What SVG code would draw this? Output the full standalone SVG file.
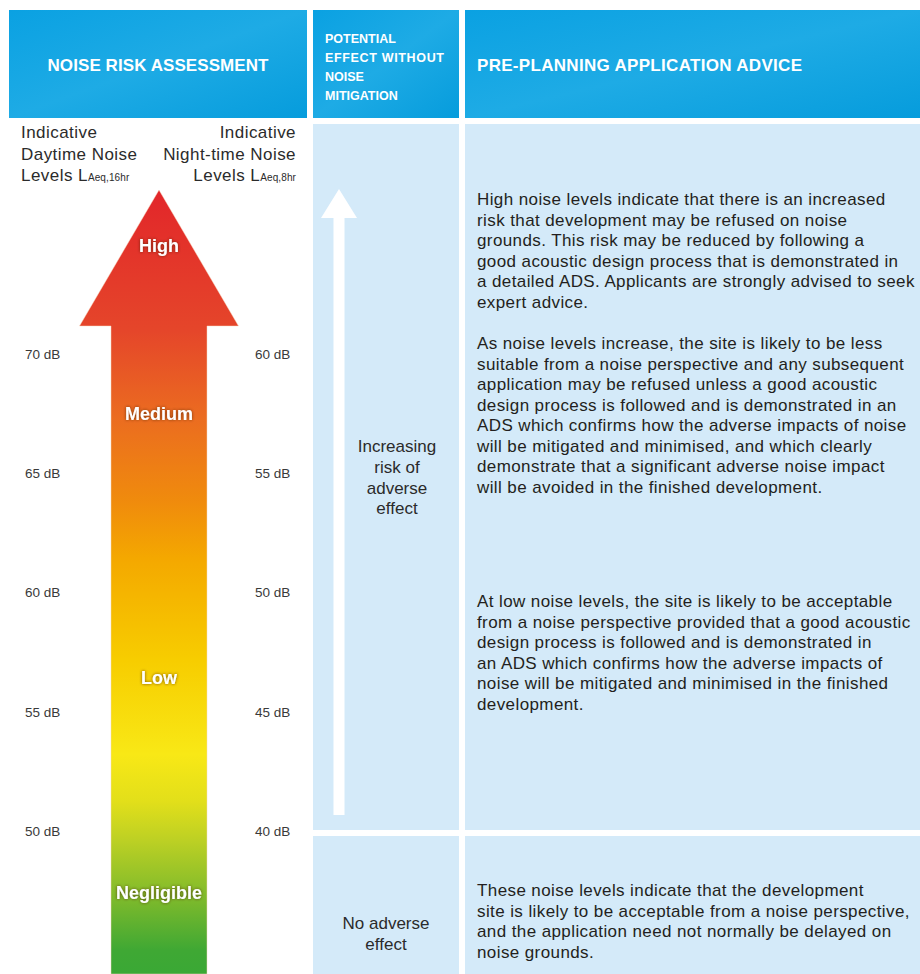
<svg xmlns="http://www.w3.org/2000/svg" width="920" height="974" viewBox="0 0 920 974">
<defs>
<linearGradient id="hdr" x1="0" y1="0" x2="1" y2="1">
<stop offset="0" stop-color="#0aa1e2"/>
<stop offset="0.5" stop-color="#1eabe5"/>
<stop offset="1" stop-color="#069cdc"/>
</linearGradient>
<linearGradient id="risk" gradientUnits="userSpaceOnUse" x1="0" y1="190" x2="0" y2="974">
<stop offset="0" stop-color="#e2262a"/>
<stop offset="0.18" stop-color="#e5462a"/>
<stop offset="0.29" stop-color="#eb6c20"/>
<stop offset="0.40" stop-color="#f08c0c"/>
<stop offset="0.47" stop-color="#f4a800"/>
<stop offset="0.60" stop-color="#f7cd00"/>
<stop offset="0.72" stop-color="#f8e816"/>
<stop offset="0.78" stop-color="#e2df1a"/>
<stop offset="0.83" stop-color="#bcd024"/>
<stop offset="0.91" stop-color="#78b82c"/>
<stop offset="0.97" stop-color="#3fa834"/>
<stop offset="1" stop-color="#3aa835"/>
</linearGradient>
<filter id="glow" x="-20%" y="-40%" width="140%" height="180%">
<feDropShadow dx="0" dy="0" stdDeviation="1.6" flood-color="#4a2000" flood-opacity="0.75"/>
</filter>
</defs>
<style>
.hdr{fill:url(#hdr)}
.panel{fill:#d4eaf9}
.ht{font-family:"Liberation Sans",Arial,sans-serif;font-weight:bold;fill:#ffffff}
.lbl{font-family:"Liberation Sans",Arial,sans-serif;font-size:17px;letter-spacing:0.45px;fill:#2b2b2b}
.sub{font-size:10px;letter-spacing:0.1px}
.db{font-family:"Liberation Sans",Arial,sans-serif;font-size:13.5px;fill:#3a3a3a}
.lvl{font-family:"Liberation Sans",Arial,sans-serif;font-size:18px;font-weight:bold;fill:#ffffff;text-anchor:middle;filter:url(#glow)}
.body{font-family:"Liberation Sans",Arial,sans-serif;font-size:17px;letter-spacing:0.4px;fill:#231f20}
.mid{font-family:"Liberation Sans",Arial,sans-serif;font-size:17px;fill:#2b2b2b;text-anchor:middle}
</style>
<rect width="920" height="974" fill="#ffffff"/>

<g id="header-assessment">
<rect class="hdr" x="9" y="10" width="298" height="108"/>
<text class="ht" x="158" y="71" font-size="17" text-anchor="middle" textLength="221">NOISE RISK ASSESSMENT</text>
</g>
<g id="header-effect">
<rect class="hdr" x="313" y="10" width="146" height="108"/>
<text class="ht" font-size="12.5">
<tspan x="325" y="42.5">POTENTIAL</tspan>
<tspan x="325" y="61.5" textLength="119">EFFECT WITHOUT</tspan>
<tspan x="325" y="80.5">NOISE</tspan>
<tspan x="325" y="99.5">MITIGATION</tspan>
</text>
</g>
<g id="header-advice">
<rect class="hdr" x="465" y="10" width="455" height="108"/>
<text class="ht" x="477" y="71" font-size="17" textLength="325">PRE-PLANNING APPLICATION ADVICE</text>
</g>

<g id="axis-labels">
<text class="lbl"><tspan x="21" y="138">Indicative</tspan><tspan x="21" y="159.5">Daytime Noise</tspan><tspan x="21" y="180.5">Levels L<tspan class="sub">Aeq,16hr</tspan></tspan></text>
<text class="lbl" text-anchor="end"><tspan x="296" y="138">Indicative</tspan><tspan x="296" y="159.5">Night-time Noise</tspan><tspan x="296" y="180.5">Levels L<tspan class="sub">Aeq,8hr</tspan></tspan></text>
</g>

<g id="db-scale">
<text class="db" x="25" y="359">70 dB</text>
<text class="db" x="25" y="478">65 dB</text>
<text class="db" x="25" y="597">60 dB</text>
<text class="db" x="25" y="717">55 dB</text>
<text class="db" x="25" y="836">50 dB</text>
<text class="db" x="255" y="359">60 dB</text>
<text class="db" x="255" y="478">55 dB</text>
<text class="db" x="255" y="597">50 dB</text>
<text class="db" x="255" y="717">45 dB</text>
<text class="db" x="255" y="836">40 dB</text>
</g>

<g id="risk-arrow">
<path d="M159 190 L238.5 326 L207 326 L207 974 L111 974 L111 326 L79.5 326 Z" fill="url(#risk)" stroke="#f6d9c0" stroke-width="0.8" stroke-opacity="0.6"/>
<text class="lvl" x="159" y="252">High</text>
<text class="lvl" x="159" y="420">Medium</text>
<text class="lvl" x="159" y="684">Low</text>
<text class="lvl" x="159" y="899">Negligible</text>
</g>

<g id="effect-panel">
<rect class="panel" x="313" y="124" width="146" height="706"/>
<text class="mid"><tspan x="397" y="452">Increasing</tspan><tspan x="397" y="473">risk of</tspan><tspan x="397" y="494">adverse</tspan><tspan x="397" y="514">effect</tspan></text>
</g>
<g id="effect-none">
<rect class="panel" x="313" y="836" width="146" height="138"/>
<text class="mid"><tspan x="386" y="929">No adverse</tspan><tspan x="386" y="950">effect</tspan></text>
</g>

<g id="advice-panel">
<rect class="panel" x="465" y="124" width="455" height="706"/>
<text class="body">
<tspan x="477" y="205">High noise levels indicate that there is an increased</tspan>
<tspan x="477" y="225.5">risk that development may be refused on noise</tspan>
<tspan x="477" y="246">grounds. This risk may be reduced by following a</tspan>
<tspan x="477" y="266.5">good acoustic design process that is demonstrated in</tspan>
<tspan x="477" y="287">a detailed ADS. Applicants are strongly advised to seek</tspan>
<tspan x="477" y="307.5">expert advice.</tspan>
</text>
<text class="body">
<tspan x="477" y="349">As noise levels increase, the site is likely to be less</tspan>
<tspan x="477" y="369.5">suitable from a noise perspective and any subsequent</tspan>
<tspan x="477" y="390">application may be refused unless a good acoustic</tspan>
<tspan x="477" y="410.5">design process is followed and is demonstrated in an</tspan>
<tspan x="477" y="431">ADS which confirms how the adverse impacts of noise</tspan>
<tspan x="477" y="451.5">will be mitigated and minimised, and which clearly</tspan>
<tspan x="477" y="472">demonstrate that a significant adverse noise impact</tspan>
<tspan x="477" y="492.5">will be avoided in the finished development.</tspan>
</text>
<text class="body">
<tspan x="477" y="607">At low noise levels, the site is likely to be acceptable</tspan>
<tspan x="477" y="627.5">from a noise perspective provided that a good acoustic</tspan>
<tspan x="477" y="648">design process is followed and is demonstrated in</tspan>
<tspan x="477" y="668.5">an ADS which confirms how the adverse impacts of</tspan>
<tspan x="477" y="689">noise will be mitigated and minimised in the finished</tspan>
<tspan x="477" y="709.5">development.</tspan>
</text>
</g>
<g id="advice-none">
<rect class="panel" x="465" y="836" width="455" height="138"/>
<text class="body">
<tspan x="477" y="896">These noise levels indicate that the development</tspan>
<tspan x="477" y="916.5">site is likely to be acceptable from a noise perspective,</tspan>
<tspan x="477" y="937">and the application need not normally be delayed on</tspan>
<tspan x="477" y="957.5">noise grounds.</tspan>
</text>
</g>

<g id="connectors">
<path d="M339 189 L357 218 L344.5 218 L344.5 815 L333.5 815 L333.5 218 L321 218 Z" fill="#ffffff"/>
</g>
</svg>
